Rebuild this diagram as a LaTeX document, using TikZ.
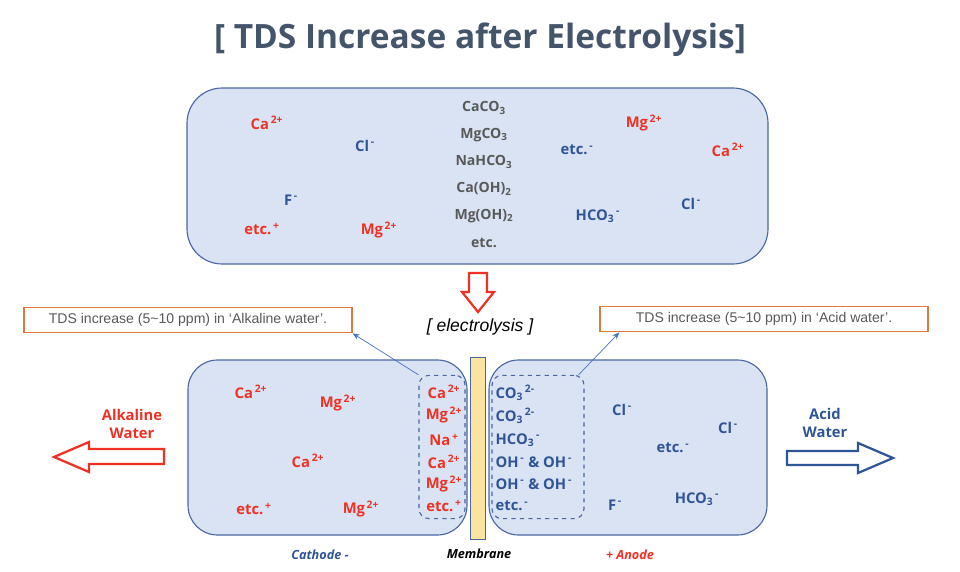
\documentclass[tikz,border=0pt]{standalone}
\usepackage{fontspec}
\setmainfont{Open Sans}
\newfontfamily\notefont{Liberation Sans}
\usepackage{xcolor}
\usetikzlibrary{arrows.meta,positioning,calc}

\definecolor{tankfill}{HTML}{DAE3F3}
\definecolor{tankline}{HTML}{4A67A3}
\definecolor{ionred}{HTML}{EE3124}
\definecolor{ionblue}{HTML}{2F5597}
\definecolor{saltgray}{HTML}{595959}
\definecolor{titlegray}{HTML}{44546A}
\definecolor{noteline}{HTML}{E07A3C}
\definecolor{notetext}{HTML}{595959}
\definecolor{linkblue}{HTML}{4472C4}
\definecolor{membfill}{HTML}{FBE3A0}

\newcommand{\chg}[1]{\textsuperscript{\,#1}}
\newcommand{\sub}[1]{\textsubscript{#1}}

\begin{document}
\begin{tikzpicture}[x=0.025cm,y=-0.025cm,
  every node/.style={font=\bfseries\fontsize{10.5}{12}\selectfont,inner sep=1pt},
  cation/.style={text=ionred},
  anion/.style={text=ionblue},
  salt/.style={text=saltgray,font=\bfseries\fontsize{10}{11}\selectfont},
  tank/.style={draw=tankline,fill=tankfill,line width=0.8pt},
  zone/.style={draw=tankline,dashed,line width=0.8pt,rounded corners=7pt},
  note/.style={draw=noteline,line width=0.8pt,text=notetext,
    font=\notefont\fontsize{10}{11}\selectfont,minimum height=0.64cm},
  hollow/.style={line width=1.6pt,fill=white,line join=miter},
  link/.style={draw=linkblue,line width=0.5pt,-{Stealth[length=5pt,width=4pt]}}]
  \useasboundingbox (0,0) rectangle (960,572);

  % title
  \node[text=titlegray,font=\bfseries\fontsize{23.8}{28}\selectfont] (title) at (480,40)
    {[ TDS Increase after Electrolysis]};

  % raw water
  \draw[tank,rounded corners=25pt] (187,88) rectangle (768,264);
  \node[salt] (s1) at (484,108) {CaCO\sub{3}};
  \node[salt] (s2) at (484,135) {MgCO\sub{3}};
  \node[salt] (s3) at (484,162) {NaHCO\sub{3}};
  \node[salt] (s4) at (484,189) {Ca(OH)\sub{2}};
  \node[salt] (s5) at (484,216) {Mg(OH)\sub{2}};
  \node[salt] (s6) at (484,243) {etc.};
  \node[cation] (r1) at (267,123) {Ca\chg{2+}};
  \node[anion]  (r2) at (365,146) {Cl\chg{-}};
  \node[anion]  (r3) at (291,200) {F\chg{-}};
  \node[cation] (r4) at (262,229) {etc.\chg{+}};
  \node[cation] (r5) at (379,230) {Mg\chg{2+}};
  \node[anion]  (r6) at (577,150) {etc.\chg{-}};
  \node[anion]  (r7) at (598,216) {HCO\sub{3}\chg{-}};
  \node[cation] (r8) at (644,123) {Mg\chg{2+}};
  \node[cation] (r9) at (728,150) {Ca\chg{2+}};
  \node[anion]  (r10) at (691,204) {Cl\chg{-}};

  % electrolysis arrow
  \draw[hollow,draw=ionred] (469,273) -- (487,273) -- (487,292) -- (494,292)
    -- (478,312) -- (462,292) -- (469,292) -- cycle;
  \node[font=\notefont\itshape\fontsize{12.5}{14}\selectfont] (elec) at (480,327)
    {[ electrolysis ]};

  % cells and membrane
  \draw[tank,rounded corners=21pt] (188,360) rectangle (467,535);
  \draw[tank,rounded corners=21pt] (489,360) rectangle (767,535);
  \draw[draw=tankline,fill=membfill,line width=0.6pt] (470,357) rectangle (485,539);

  % cathode side
  \node[cation] (a1) at (251,392) {Ca\chg{2+}};
  \node[cation] (a2) at (338,403) {Mg\chg{2+}};
  \node[cation] (a3) at (308,461) {Ca\chg{2+}};
  \node[cation] (a4) at (254,509) {etc.\chg{+}};
  \node[cation] (a5) at (361,509) {Mg\chg{2+}};
  \node[zone,minimum width=1.15cm,minimum height=3.58cm] (alkzone) at (442,447) {};
  \node[cation] (k1) at (444,392) {Ca\chg{2+}};
  \node[cation] (k2) at (444,415) {Mg\chg{2+}};
  \node[cation] (k3) at (444,440) {Na\chg{+}};
  \node[cation] (k4) at (444,462) {Ca\chg{2+}};
  \node[cation] (k5) at (444,484) {Mg\chg{2+}};
  \node[cation] (k6) at (444,506) {etc.\chg{+}};

  % anode side
  \node[zone,minimum width=2.3cm,minimum height=3.58cm] (acidzone) at (538,447) {};
  \node[anion,anchor=west] (n1) at (494,393) {CO\sub{3}\chg{2-}};
  \node[anion,anchor=west] (n2) at (494,416) {CO\sub{3}\chg{2-}};
  \node[anion,anchor=west] (n3) at (494,440) {HCO\sub{3}\chg{-}};
  \node[anion,anchor=west] (n4) at (494,462) {OH\chg{-} \& OH\chg{-}};
  \node[anion,anchor=west] (n5) at (494,484) {OH\chg{-} \& OH\chg{-}};
  \node[anion,anchor=west] (n6) at (494,506) {etc.\chg{-}};
  \node[anion] (b1) at (622,410) {Cl\chg{-}};
  \node[anion] (b2) at (728,428) {Cl\chg{-}};
  \node[anion] (b3) at (673,448) {etc.\chg{-}};
  \node[anion] (b4) at (615,505) {F\chg{-}};
  \node[anion] (b5) at (697,499) {HCO\sub{3}\chg{-}};

  % notes
  \node[note,minimum width=8.2cm] (alknote) at (188,320) {TDS increase (5\textasciitilde10 ppm) in ‘Alkaline water’.};
  \node[note,minimum width=8.2cm] (acidnote) at (764,319) {TDS increase (5\textasciitilde10 ppm) in ‘Acid water’.};
  \draw[link] (alkzone.north west) -- (alknote.south east);
  \draw[link] ($(acidzone.north east)+(-6,0)$) -- ($(acidnote.south west)+(20,0)$);

  % outflows
  \draw[hollow,draw=ionred] (164,449) -- (89,449) -- (89,442) -- (54,457)
    -- (89,472) -- (89,464) -- (164,464) -- cycle;
  \node[text=ionred,align=center,font=\bfseries\fontsize{10.5}{13}\selectfont] (alkwater) at (132,424)
    {Alkaline\\Water};
  \draw[hollow,draw=ionblue] (787,451) -- (858,451) -- (858,443) -- (893,458)
    -- (858,473) -- (858,465) -- (787,465) -- cycle;
  \node[text=ionblue,align=center,font=\bfseries\fontsize{10.5}{13}\selectfont] (acidwater) at (825,423)
    {Acid\\Water};

  % electrodes
  \node[text=ionblue,font=\bfseries\itshape\fontsize{9}{11}\selectfont] (cathode) at (320,555) {Cathode -};
  \node[font=\bfseries\itshape\fontsize{9}{11}\selectfont] (membrane) at (479,554) {Membrane};
  \node[text=ionred,font=\bfseries\itshape\fontsize{9}{11}\selectfont] (anode) at (630,555) {+ Anode};
\end{tikzpicture}
\end{document}
